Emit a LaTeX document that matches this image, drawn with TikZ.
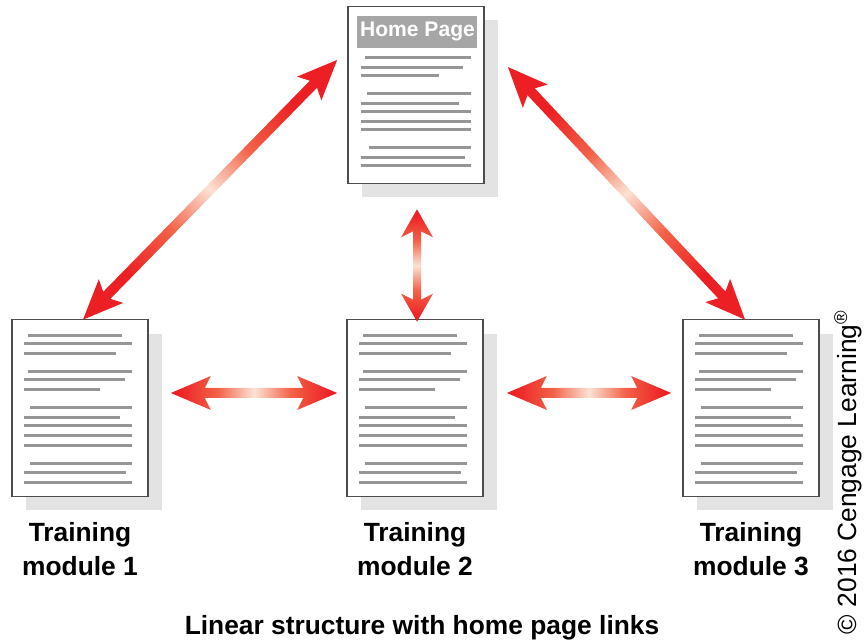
\documentclass[tikz,border=0pt]{standalone}
\usepackage{fontspec}
\setmainfont{Liberation Sans}
\usetikzlibrary{positioning,calc,shadows}

\definecolor{linkred}{RGB}{236,32,36}
\definecolor{linkorange}{RGB}{242,98,72}
\definecolor{linkpale}{RGB}{252,226,212}
\definecolor{pagegray}{RGB}{150,150,150}

\pgfdeclarehorizontalshading{linkshade}{100bp}{color(0bp)=(linkred); color(27bp)=(linkred);
  color(39bp)=(linkorange); color(50bp)=(linkpale); color(61bp)=(linkorange);
  color(73bp)=(linkred); color(100bp)=(linkred)}

\tikzset{
  page/.style={draw=black!70, line width=1pt, fill=white,
    minimum width=2.72cm, minimum height=3.54cm, inner sep=0pt,
    drop shadow={shadow xshift=0.28cm, shadow yshift=-0.28cm, fill=black!11, opacity=1}},
  textline/.style={draw=pagegray, line width=1.6pt},
  link arrow/.style={shading=linkshade},
  modlabel/.style={font=\fontsize{15}{19}\selectfont\bfseries, align=center, inner sep=0pt},
}

% grey text lines of a module page
\newcommand{\modlines}[1]{%
  \foreach \a/\b/\c in {17/111/17, 13/121/25, 13/105/35, 17/121/53, 13/114/61,
      13/89/71, 19/121/89, 13/109/99, 13/121/107, 13/121/117, 13/121/127,
      19/121/145, 13/115/154, 13/121/164}
    \draw[textline] ([shift={(\a,-\c)}]#1.north west) -- ([shift={(\b,-\c)}]#1.north west);}

% double headed shaded arrow: from, to, head length, head half width, shaft half width
\newcommand{\linkarrow}[5]{%
  \path let \p1=($(#2)-(#1)$) in
    \pgfextra{\pgfmathsetmacro\arrang{atan2(\y1,\x1)}%
      \pgfmathsetmacro\arrlen{veclen(\x1,\y1)/0.569055}%
      \xdef\arrang{\arrang}\xdef\arrlen{\arrlen}};
  \begin{scope}[shift={(#1)}, rotate=\arrang]
    \shade[link arrow, shading angle=\arrang]
      (0,0) -- (#3,#4) -- (#3-6,#5) -- (\arrlen-#3+6,#5) -- (\arrlen-#3,#4)
      -- (\arrlen,0) -- (\arrlen-#3,-#4) -- (\arrlen-#3+6,-#5) -- (#3-6,-#5)
      -- (#3,-#4) -- cycle;
  \end{scope}}

\begin{document}
\begin{tikzpicture}[x=0.02cm, y=0.02cm]
  \useasboundingbox (0,0) rectangle (865,644);

  % pages
  \node[page] (home) at (416,549) {};
  \node[page] (mod1) at (80,236) {};
  \node[page] (mod2) at (415,236) {};
  \node[page] (mod3) at (751,236) {};

  \node[fill=pagegray!85, text=white, minimum width=2.4cm, minimum height=0.64cm,
    inner sep=0pt, anchor=north west, font=\fontsize{12}{14}\selectfont\bfseries]
    (homehead) at ([shift={(10,-10)}]home.north west) {Home Page};
  \foreach \a/\b/\c in {18/124/52, 14/116/62, 14/92/70, 20/124/88, 14/112/98,
      14/124/106, 14/124/116, 14/124/124, 22/124/142, 14/118/152, 14/124/160}
    \draw[textline] ([shift={(\a,-\c)}]home.north west) -- ([shift={(\b,-\c)}]home.north west);
  \modlines{mod1}
  \modlines{mod2}
  \modlines{mod3}

  % labels
  \node[modlabel, below=0.5cm of mod1] (lab1) {Training\\module 1};
  \node[modlabel, below=0.5cm of mod2] (lab2) {Training\\module 2};
  \node[modlabel, below=0.5cm of mod3] (lab3) {Training\\module 3};
  \node[modlabel] (caption) at (422,16) {Linear structure with home page links};
  \node[font=\fontsize{15}{18}\selectfont, rotate=90, inner sep=0pt] (copy) at (848,172)
    {© 2016 Cengage Learning\textsuperscript{®}};

  % link arrows
  \coordinate (l12a) at ($(mod1.east)+(22,15)$);
  \coordinate (l12b) at ($(mod2.west)+(-9,15)$);
  \coordinate (l23a) at ($(mod2.east)+(23,15)$);
  \coordinate (l23b) at ($(mod3.west)+(-11,15)$);
  \coordinate (lh2a) at ($(mod2.north)+(2,-3)$);
  \coordinate (lh2b) at ($(home.south)+(1,-25)$);
  \coordinate (lh1a) at ($(mod1.north)+(3,-1)$);
  \coordinate (lh1b) at ($(home.west)+(-10,35)$);
  \coordinate (lh3a) at ($(home.east)+(23,28)$);
  \coordinate (lh3b) at ($(mod3.north)+(-6,-1)$);

  \linkarrow{l12a}{l12b}{40}{17}{5}
  \linkarrow{l23a}{l23b}{40}{17}{5}
  \linkarrow{lh2a}{lh2b}{28}{16}{4}
  \linkarrow{lh1a}{lh1b}{40}{17}{5}
  \linkarrow{lh3a}{lh3b}{40}{17}{5}
\end{tikzpicture}
\end{document}
